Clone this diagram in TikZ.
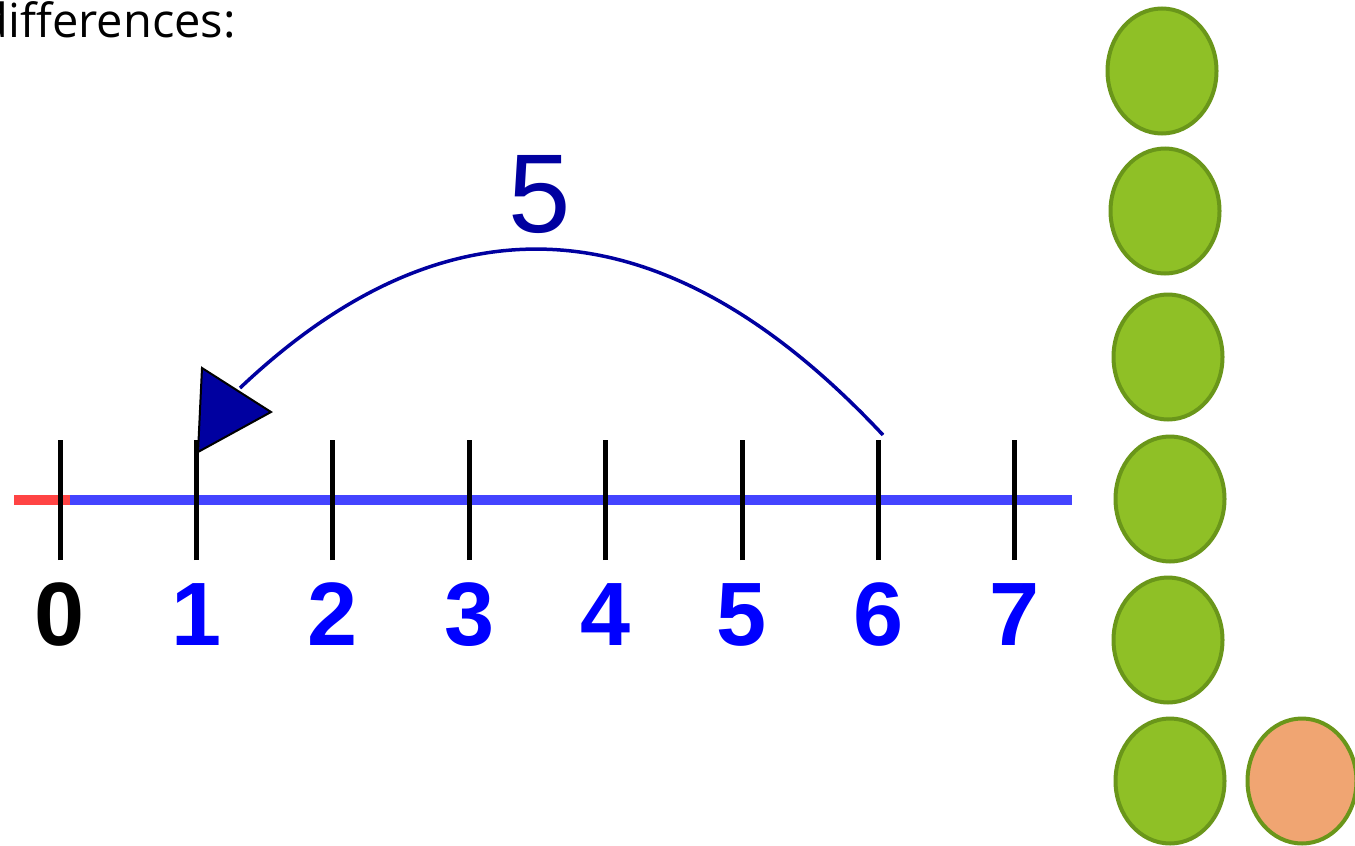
\documentclass[tikz,border=0pt]{standalone}
\usepackage{fontspec}
\setmainfont{Liberation Sans}
\newfontfamily\notefont{Open Sans}
\usetikzlibrary{shapes.geometric}
\definecolor{axisblue}{RGB}{68,68,255}
\definecolor{axisred}{RGB}{255,68,68}
\definecolor{jumpblue}{RGB}{0,0,160}
\definecolor{numblue}{RGB}{0,0,255}
\definecolor{beadgreen}{RGB}{143,192,38}
\definecolor{beadedge}{RGB}{106,150,26}
\definecolor{beadorange}{RGB}{240,165,114}
\tikzset{
  tickmark/.style={line width=5pt},
  numlabel/.style={font=\fontsize{90}{90}\selectfont\bfseries, anchor=base, inner sep=0pt},
  bead/.style={ellipse, draw=beadedge, line width=4pt, fill=beadgreen,
    minimum width=109pt, minimum height=125pt, inner sep=0pt},
}
\begin{document}
\begin{tikzpicture}[x=1pt,y=-1pt]
\useasboundingbox (0,0) rectangle (1355,846);
\clip (0,0) rectangle (1355,846);
\node[anchor=base east, inner sep=0pt, font=\notefont\fontsize{47}{47}\selectfont] (title) at (236,37) {differences:};
% number line
\draw[axisblue, line width=10pt] (70,500) -- (1072,500);
\draw[axisred, line width=10pt] (14,500) -- (70,500);
\foreach \n in {0,...,7}{
  \coordinate (t\n) at ({60+136.4*\n},500);
  \draw[tickmark] ([yshift=-60pt]t\n) -- ([yshift=60pt]t\n);
  \ifnum\n=0 \def\numcol{black}\else\def\numcol{numblue}\fi
  \node[numlabel, text=\numcol] (n\n) at ({60+136.4*\n},645) {\n};
}
% jump back by 5
\coordinate (jumpstart) at (883,435);
\coordinate (jumpend) at (240,388);
\draw[jumpblue, line width=3.5pt] (jumpstart) .. controls (666,203) and (450,189) .. (jumpend);
\filldraw[fill=jumpblue, draw=black, line width=2pt] (202,368) -- (271,412) -- (198,452) -- cycle;
\node[font=\fontsize{112}{112}\selectfont, text=jumpblue, anchor=base, inner sep=0pt] (jumplabel) at (540,232) {5};
% counters
\node[bead] (g1) at (1162,71) {};
\node[bead] (g2) at (1165,211) {};
\node[bead] (g3) at (1168,357) {};
\node[bead] (g4) at (1170,499) {};
\node[bead] (g5) at (1168,640) {};
\node[bead] (g6) at (1170,781) {};
\node[bead, fill=beadorange] (r1) at (1302,781) {};
\end{tikzpicture}
\end{document}
